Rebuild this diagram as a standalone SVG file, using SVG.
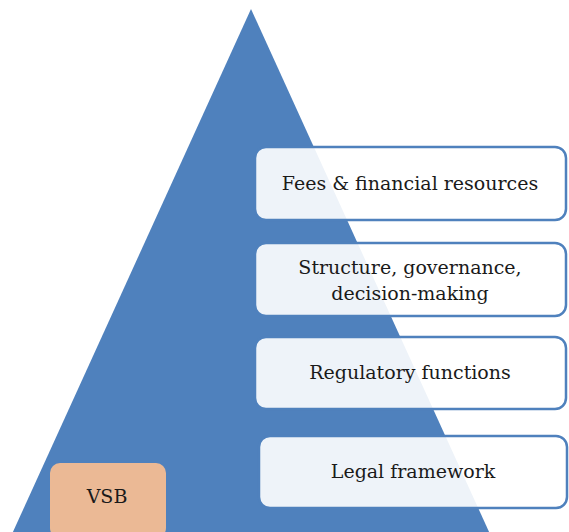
<svg xmlns="http://www.w3.org/2000/svg" width="569" height="532" viewBox="0 0 569 532">
<style>
.box{fill:#FFFFFF;fill-opacity:0.9;stroke:#4F81BD;stroke-width:2.5}
.t{font-family:"DejaVu Serif","Liberation Serif",serif;font-size:19px;fill:#1a1a1a;text-anchor:middle}
</style>
<rect width="569" height="532" fill="#FFFFFF"/>
<g id="pyramid"><polygon points="251,9 12,534 490,534" fill="#4F81BD"/></g>
<g id="connectors"></g>
<g id="fees"><rect class="box" x="255" y="147" width="311" height="73" rx="11"/><text class="t" x="410" y="190">Fees &amp; financial resources</text></g>
<g id="structure"><rect class="box" x="255" y="243" width="311" height="73" rx="11"/><text class="t" x="410" y="274">Structure, governance,</text><text class="t" x="410" y="300">decision-making</text></g>
<g id="regulatory"><rect class="box" x="255" y="337" width="311" height="72" rx="11"/><text class="t" x="410" y="379">Regulatory functions</text></g>
<g id="legal"><rect class="box" x="259" y="436" width="308" height="72" rx="11"/><text class="t" x="413" y="478">Legal framework</text></g>
<g id="vsb"><rect x="50" y="463" width="116" height="75" rx="10" fill="#EBB995"/><text class="t" x="107" y="503">VSB</text></g>
</svg>
